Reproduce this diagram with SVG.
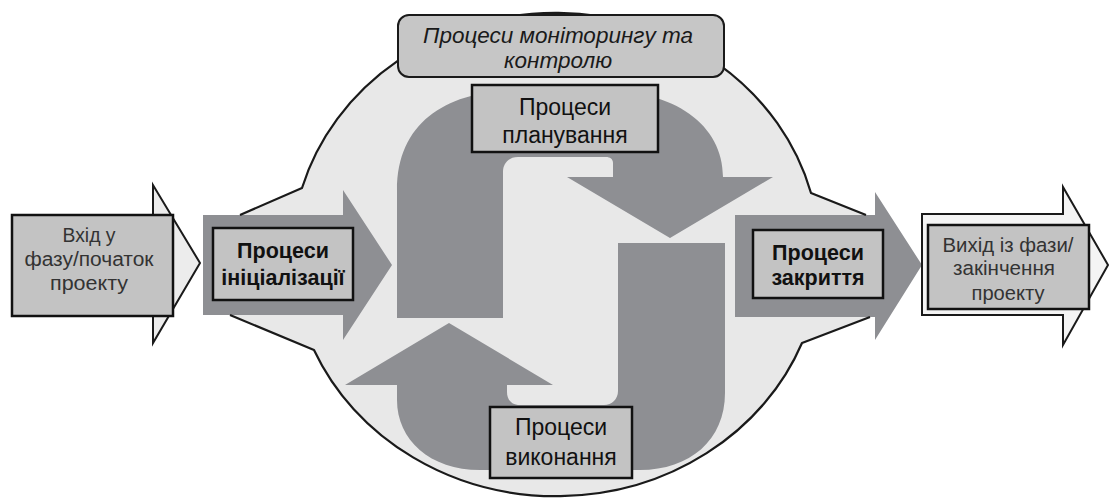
<svg xmlns="http://www.w3.org/2000/svg" width="1110" height="501" viewBox="0 0 1110 501">
<style>
.box{fill:#c3c3c3;stroke:#111;stroke-width:2.5}
.arr{fill:#8e8f93}
.t{font-family:"Liberation Sans",Arial,sans-serif;text-anchor:middle;fill:#111}
.tb{font-size:21.5px;font-weight:bold}
.tn{font-size:23px}
.ts{font-size:20px;fill:#333}
.to{font-size:20.5px;fill:#333}
.ti{font-size:22.5px;font-style:italic;fill:#1a1a1a}
.outl{fill:none;stroke:#1a1a1a;stroke-width:2.2;stroke-linejoin:round}
</style>
<rect width="1110" height="501" fill="#fff"/>
<g id="background">
<path d="M240,215 L302,188 A264 242 0 0 1 811,193 L866,215 L870,317 L802,343 A264 242 0 0 1 314,350 L230,315 Z" fill="#e8e8e8"/>
</g>
<g id="connectors">
<path id="planning-arrow" class="arr" d="M397,318 L397,190 C397,120 450,90 520,90 L600,90 C675,90 723,125 723,177 L773,177 L670,238 L567,177 L613,177 L613,163 C613,159 610,157 606,157 L518,157 C509,157 503,163 503,172 L503,318 Z"/>
<path id="execution-arrow" class="arr" d="M618,243 L725,243 L725,393 C725,440 690,470 640,470 L480,470 C430,470 397,440 397,400 L397,385 L345,385 L449,323 L553,385 L507,385 L507,392 C507,400 512,405 520,405 L604,405 C612,405 618,399 618,391 Z"/>
<path id="init-arrow" class="arr" d="M203,215 L343,215 L343,190 L392,265 L343,340 L343,315 L203,315 Z"/>
<path id="closing-arrow" class="arr" d="M735,215 L875,215 L875,192 L922,265 L875,340 L875,317 L735,317 Z"/>
</g>
<g id="outline">
<path class="outl" d="M240,215 L302,188 A264 242 0 0 1 811,193 L866,215"/>
<path class="outl" d="M870,317 L802,343 A264 242 0 0 1 314,350 L230,315"/>
</g>
<g id="input">
<path d="M15,215 L153,215 L153,185 L200,263 L153,343 L153,315 L15,315 Z" fill="#ececec" stroke="#1a1a1a" stroke-width="2"/>
<rect class="box" x="12" y="215" width="161" height="101"/>
<text class="t ts"><tspan x="89" y="242" textLength="53" lengthAdjust="spacingAndGlyphs">Вхід у</tspan><tspan x="89" y="266" textLength="129" lengthAdjust="spacingAndGlyphs">фазу/початок</tspan><tspan x="89" y="290" textLength="78" lengthAdjust="spacingAndGlyphs">проекту</tspan></text>
</g>
<g id="initiation">
<rect class="box" x="213" y="228" width="140" height="72"/>
<text class="t tb"><tspan x="283" y="258">Процеси</tspan><tspan x="283" y="285">ініціалізації</tspan></text>
</g>
<g id="planning">
<rect class="box" x="472" y="85" width="186" height="67"/>
<text class="t tn"><tspan x="565" y="115">Процеси</tspan><tspan x="565" y="143">планування</tspan></text>
</g>
<g id="execution">
<rect class="box" x="490" y="407" width="142" height="71"/>
<text class="t tn"><tspan x="561" y="435">Процеси</tspan><tspan x="561" y="465">виконання</tspan></text>
</g>
<g id="closing">
<rect class="box" x="753" y="230" width="130" height="68"/>
<text class="t tb"><tspan x="818" y="260">Процеси</tspan><tspan x="818" y="285">закриття</tspan></text>
</g>
<g id="output">
<path d="M922,214 L1063,214 L1063,187 L1108,265 L1063,345 L1063,315 L922,315 Z" fill="#f4f4f4" stroke="#1a1a1a" stroke-width="2"/>
<rect class="box" x="928" y="225" width="161" height="84"/>
<text class="t to"><tspan x="1008" y="252" textLength="131" lengthAdjust="spacingAndGlyphs">Вихід із фази/</tspan><tspan x="1004" y="275" textLength="102" lengthAdjust="spacingAndGlyphs">закінчення</tspan><tspan x="1008" y="300" textLength="73" lengthAdjust="spacingAndGlyphs">проекту</tspan></text>
</g>
<g id="monitoring">
<rect x="398" y="15" width="326" height="62" rx="11" fill="#c6c6c6" stroke="#1a1a1a" stroke-width="2"/>
<text class="t ti"><tspan x="558" y="43">Процеси моніторингу та</tspan><tspan x="558" y="68">контролю</tspan></text>
</g>
</svg>
